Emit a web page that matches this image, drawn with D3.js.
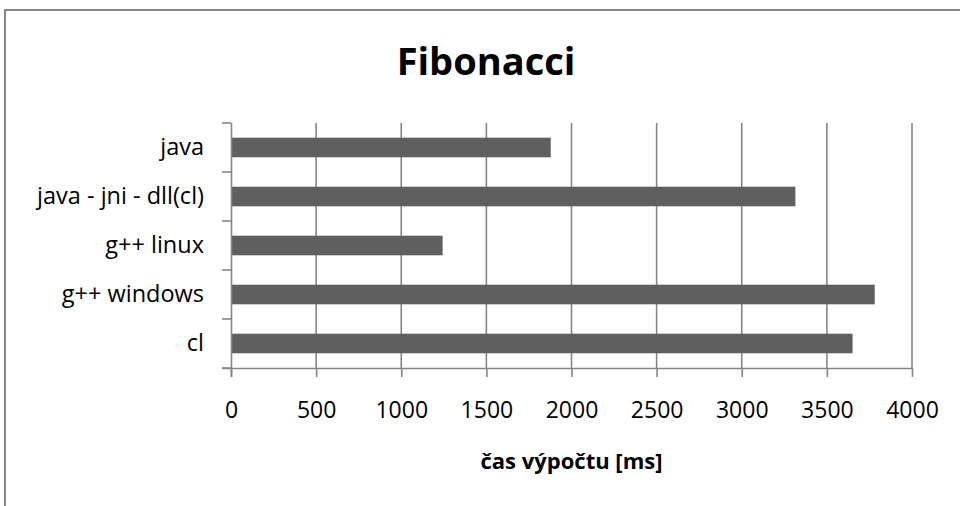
<!DOCTYPE html>
<html>
<head>
<meta charset="utf-8">
<script src="https://cdn.jsdelivr.net/npm/d3@7"></script>
<style>
  body { margin: 0; background: #fff; }
  text { font-family: "Open Sans", "Noto Sans", sans-serif; fill: #000; }
</style>
</head>
<body>
<div id="chart"></div>
<script>
// data
const categories = ["java", "java - jni - dll(cl)", "g++ linux", "g++ windows", "cl"];
const times = [1878, 3315, 1243, 3781, 3651];
const xTicks = [0, 500, 1000, 1500, 2000, 2500, 3000, 3500, 4000];

const svgWidth = 960;
const svgHeight = 506;
const plot = { left: 231, right: 912, top: 123, bottom: 368 };
const gray = "#868686";

const svg = d3.select("#chart")
    .append("svg")
    .attr("width", svgWidth)
    .attr("height", svgHeight);

// chart frame (runs off the right and bottom edge)
svg.append("rect")
    .attr("x", 5)
    .attr("y", 10)
    .attr("width", 1000)
    .attr("height", 600)
    .attr("fill", "none")
    .attr("stroke", gray)
    .attr("stroke-width", 2);

const data = categories.map((c, i) => ({ name: c, value: times[i] }));

const x = d3.scaleLinear()
    .domain([0, 4000])
    .range([plot.left, plot.right]);

const y = d3.scaleBand()
    .domain(categories)
    .range([plot.top, plot.bottom])
    .paddingInner(0.6)
    .paddingOuter(0.3);

// vertical gridlines
svg.append("g")
    .selectAll("line")
    .data(xTicks.slice(1))
    .enter()
    .append("line")
    .attr("x1", d => x(d))
    .attr("x2", d => x(d))
    .attr("y1", plot.top)
    .attr("y2", plot.bottom)
    .attr("stroke", gray)
    .attr("stroke-width", 1.6);

// bars
svg.append("g")
    .selectAll("rect")
    .data(data)
    .enter()
    .append("rect")
    .attr("x", x(0))
    .attr("y", d => y(d.name))
    .attr("width", d => x(d.value) - x(0))
    .attr("height", y.bandwidth())
    .attr("fill", "#5f5f5f");

// x axis
const xAxis = svg.append("g")
    .attr("transform", `translate(0,${plot.bottom})`)
    .call(d3.axisBottom(x).tickValues(xTicks).tickSize(9).tickPadding(25).tickFormat(d3.format("d")));
xAxis.select(".domain").attr("stroke", gray).attr("stroke-width", 1.6)
    .attr("d", `M${plot.left - 9},0.5H${plot.right}`);
xAxis.selectAll(".tick line").attr("stroke", gray).attr("stroke-width", 1.6);
xAxis.selectAll(".tick text")
    .style("font-size", "23px")
    .style("font-family", "'Open Sans', sans-serif")
    .attr("fill", "#000");

// y axis: labels at band centres, ticks at band edges
const yAxis = svg.append("g")
    .attr("transform", `translate(${plot.left},0)`)
    .call(d3.axisLeft(y).tickSize(0).tickPadding(27));
yAxis.select(".domain").attr("stroke", gray).attr("stroke-width", 1.6)
    .attr("d", `M0.5,${plot.top}V${plot.bottom + 9}`);
yAxis.selectAll(".tick text")
    .style("font-size", "23.5px")
    .style("font-family", "'Open Sans', sans-serif")
    .attr("fill", "#000");

const edges = d3.range(categories.length + 1).map(i => plot.top + i * y.step());
yAxis.selectAll(".edge")
    .data(edges)
    .enter()
    .append("line")
    .attr("class", "edge")
    .attr("x1", -9)
    .attr("x2", 0)
    .attr("y1", d => d)
    .attr("y2", d => d)
    .attr("stroke", gray)
    .attr("stroke-width", 1.6);

// title
svg.append("text")
    .text("Fibonacci")
    .attr("x", 486)
    .attr("y", 75)
    .attr("text-anchor", "middle")
    .style("font-size", "38px")
    .style("font-weight", "bold");

// axis title
svg.append("text")
    .text("čas výpočtu [ms]")
    .attr("x", (plot.left + plot.right) / 2)
    .attr("y", 469)
    .attr("text-anchor", "middle")
    .style("font-size", "22px")
    .style("font-weight", "bold");
</script>
</body>
</html>
